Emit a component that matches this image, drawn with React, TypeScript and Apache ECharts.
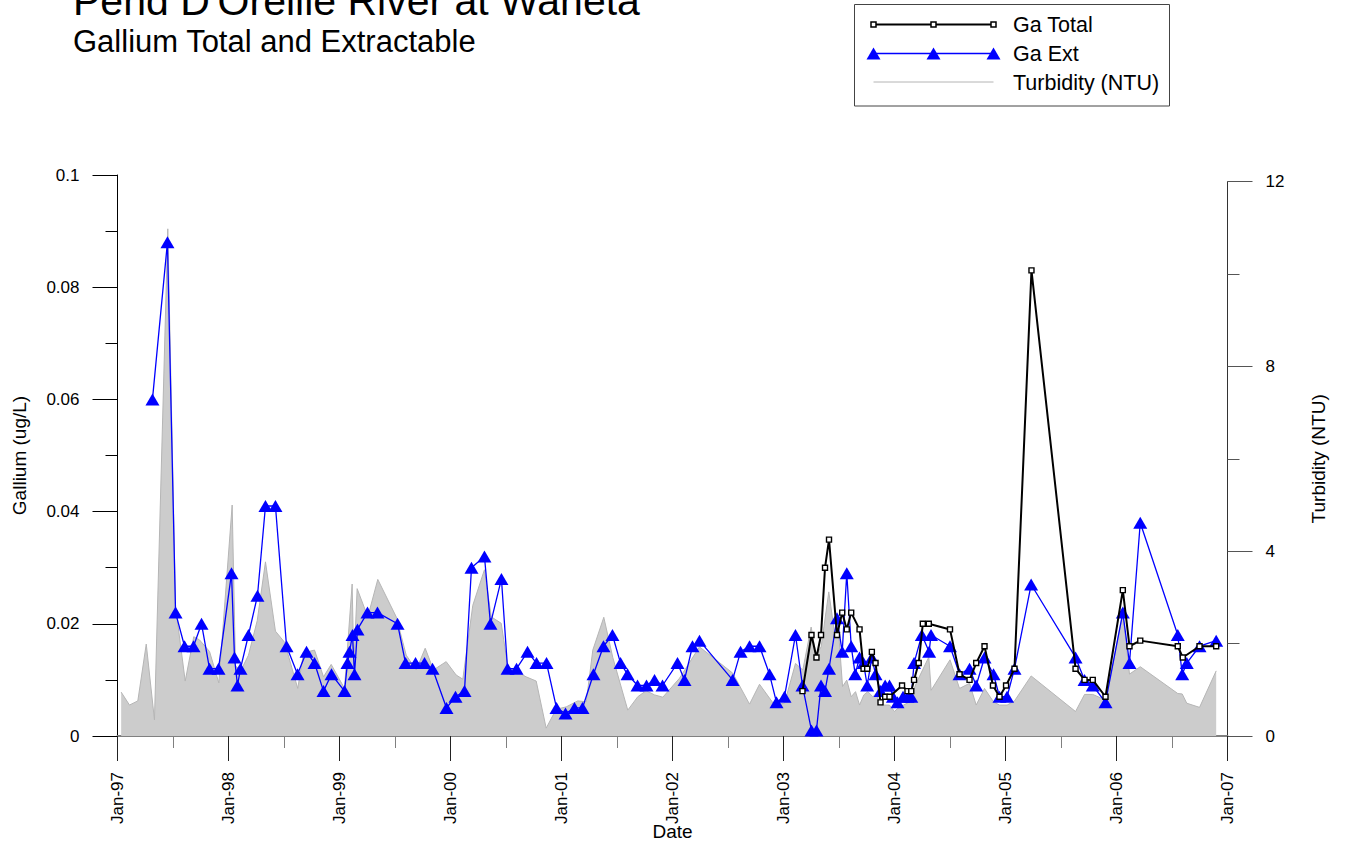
import { useEffect, useRef } from 'react';
import * as echarts from 'echarts';

const FONT = '"Liberation Sans", Arial, Helvetica, sans-serif';

// Sample times (decimal years) and values
const extDates = [
  1997.315, 1997.45, 1997.523, 1997.604, 1997.685, 1997.757, 1997.829, 1997.91,
  1998.027, 1998.054, 1998.081, 1998.108, 1998.18, 1998.261, 1998.333, 1998.423, 1998.523, 1998.622, 1998.703, 1998.775, 1998.856, 1998.928,
  1999.045, 1999.072, 1999.09, 1999.117, 1999.135, 1999.162, 1999.252, 1999.342, 1999.523, 1999.595, 1999.685, 1999.766, 1999.838, 1999.964,
  2000.045, 2000.126, 2000.189, 2000.306, 2000.36, 2000.459, 2000.514, 2000.595, 2000.694, 2000.775, 2000.865, 2000.955,
  2001.036, 2001.117, 2001.189, 2001.288, 2001.378, 2001.459, 2001.532, 2001.595, 2001.685, 2001.766, 2001.838, 2001.91,
  2002.045, 2002.108, 2002.18, 2002.243, 2002.541, 2002.613, 2002.694, 2002.784, 2002.874, 2002.937,
  2003.009, 2003.108, 2003.171, 2003.252, 2003.297, 2003.338, 2003.374, 2003.41, 2003.482, 2003.529, 2003.57, 2003.61, 2003.646, 2003.685, 2003.721, 2003.754, 2003.796, 2003.829, 2003.874, 2003.916, 2003.955, 2003.986,
  2004.027, 2004.077, 2004.117, 2004.151, 2004.176, 2004.246, 2004.312, 2004.329, 2004.5, 2004.586, 2004.676, 2004.736, 2004.811, 2004.892, 2004.946,
  2005.014, 2005.081, 2005.231, 2005.631, 2005.712, 2005.786, 2005.901,
  2006.057, 2006.117, 2006.214, 2006.552, 2006.592, 2006.633, 2006.748, 2006.898,
];
const extValues = [
  0.06, 0.088, 0.022, 0.016, 0.016, 0.02, 0.012, 0.012,
  0.029, 0.014, 0.009, 0.012, 0.018, 0.025, 0.041, 0.041, 0.016, 0.011, 0.015, 0.013, 0.008, 0.011,
  0.008, 0.013, 0.015, 0.018, 0.011, 0.019, 0.022, 0.022, 0.02, 0.013, 0.013, 0.013, 0.012, 0.005,
  0.007, 0.008, 0.03, 0.032, 0.02, 0.028, 0.012, 0.012, 0.015, 0.013, 0.013, 0.005,
  0.004, 0.005, 0.005, 0.011, 0.016, 0.018, 0.013, 0.011, 0.009, 0.009, 0.01, 0.009,
  0.013, 0.01, 0.016, 0.017, 0.01, 0.015, 0.016, 0.016, 0.011, 0.006,
  0.007, 0.018, 0.009, 0.001, 0.001, 0.009, 0.008, 0.012, 0.021, 0.015, 0.029, 0.016, 0.011, 0.014, 0.013, 0.009, 0.014, 0.011, 0.008, 0.009, 0.009, 0.007,
  0.006, 0.007, 0.007, 0.007, 0.013, 0.018, 0.015, 0.018, 0.016, 0.011, 0.012, 0.009, 0.014, 0.011, 0.007,
  0.007, 0.012, 0.027, 0.014, 0.01, 0.009, 0.006,
  0.022, 0.013, 0.038, 0.018, 0.011, 0.013, 0.016, 0.017,
];

const totalDates = [
  2003.171, 2003.252, 2003.297, 2003.338, 2003.374, 2003.41, 2003.482, 2003.529, 2003.57, 2003.61, 2003.685, 2003.721, 2003.754, 2003.796, 2003.829, 2003.874, 2003.916, 2003.955,
  2004.068, 2004.117, 2004.151, 2004.176, 2004.218, 2004.255, 2004.309, 2004.5, 2004.586, 2004.676, 2004.736, 2004.811, 2004.887, 2004.946,
  2005.005, 2005.081, 2005.234, 2005.631, 2005.712, 2005.786, 2005.901,
  2006.057, 2006.117, 2006.214, 2006.552, 2006.597, 2006.748, 2006.898,
];
const totalValues = [
  0.008, 0.018, 0.014, 0.018, 0.03, 0.035, 0.018, 0.022, 0.019, 0.022, 0.019, 0.012, 0.012, 0.015, 0.013, 0.006, 0.007, 0.007,
  0.009, 0.008, 0.008, 0.01, 0.013, 0.02, 0.02, 0.019, 0.011, 0.01, 0.013, 0.016, 0.009, 0.007,
  0.009, 0.012, 0.083, 0.012, 0.01, 0.01, 0.007,
  0.026, 0.016, 0.017, 0.016, 0.014, 0.016, 0.016,
];

const turbDates = [
  1997.033, 1997.108, 1997.183, 1997.259, 1997.333, 1997.453, 1997.523, 1997.61, 1997.687, 1997.739, 1997.829, 1997.913,
  1998.033, 1998.063, 1998.114, 1998.18, 1998.259, 1998.333, 1998.423, 1998.505, 1998.624, 1998.676, 1998.775, 1998.856, 1998.925,
  1999.045, 1999.114, 1999.129, 1999.159, 1999.255, 1999.345, 1999.511, 1999.601, 1999.691, 1999.772, 1999.847, 1999.961,
  2000.051, 2000.111, 2000.201, 2000.306, 2000.367, 2000.457, 2000.516, 2000.682, 2000.772, 2000.862, 2000.952,
  2001.042, 2001.147, 2001.223, 2001.282, 2001.381, 2001.462, 2001.597, 2001.687, 2001.763, 2001.838, 2001.913,
  2002.063, 2002.243, 2002.543, 2002.694, 2002.784, 2002.919,
  2003.009, 2003.108, 2003.174, 2003.249, 2003.294, 2003.339, 2003.408, 2003.459, 2003.489, 2003.532, 2003.57, 2003.61, 2003.649, 2003.685, 2003.724, 2003.76, 2003.805, 2003.835, 2003.874, 2003.955,
  2004.0, 2004.03, 2004.135, 2004.195, 2004.309, 2004.33, 2004.5, 2004.586, 2004.676, 2004.736, 2004.811, 2004.892, 2004.946,
  2005.015, 2005.081, 2005.231, 2005.631, 2005.712, 2005.786, 2005.901,
  2006.057, 2006.117, 2006.214, 2006.552, 2006.592, 2006.633, 2006.748, 2006.898,
];
const turbValues = [
  0.95, 0.67, 0.76, 1.99, 0.35, 10.98, 2.8, 1.19, 2.15, 2.08, 1.83, 1.15,
  5.0, 1.51, 1.43, 1.75, 2.5, 3.77, 2.27, 2.03, 1.03, 1.8, 1.86, 1.28, 1.55,
  1.03, 3.29, 1.5, 3.19, 2.58, 3.39, 2.58, 1.75, 1.43, 1.9, 1.43, 1.61,
  1.32, 1.23, 2.83, 3.6, 2.58, 2.44, 1.5, 1.28, 1.19, 0.17, 0.58,
  0.63, 0.76, 0.74, 1.86, 2.57, 1.7, 0.56, 0.85, 0.98, 0.89, 0.84,
  1.25, 1.93, 1.36, 0.69, 1.12, 0.67,
  0.71, 1.57, 1.43, 2.36, 1.75, 1.93, 3.12, 2.25, 2.5, 1.07, 1.21, 0.85, 0.96, 0.67, 0.89, 0.96, 0.85, 0.92, 0.67, 0.67,
  0.53, 0.6, 0.74, 1.14, 1.71, 0.99, 1.65, 1.03, 1.14, 0.67, 1.03, 0.74, 0.67,
  0.67, 0.76, 1.3, 0.53, 0.9, 0.9, 0.78,
  2.65, 1.34, 1.5, 0.92, 0.91, 0.71, 0.62, 1.41,
];

const TITLE = "Pend D'Oreille River at Waneta";
const SUBTITLE = 'Gallium Total and Extractable';
const LEGEND_LABELS = ['Ga Total', 'Ga Ext', 'Turbidity (NTU)'];
const X_NAME = 'Date';
const Y_LEFT_NAME = 'Gallium (ug/L)';
const Y_RIGHT_NAME = 'Turbidity (NTU)';
const MONTH_LABEL = 'Jan';

const pair = (xs: number[], ys: number[]) => xs.map((x, i) => [x, ys[i]]);

export default function App() {
  const ref = useRef<HTMLDivElement>(null);

  useEffect(() => {
    if (!ref.current) return;
    const chart = echarts.init(ref.current, undefined, { renderer: 'svg' });

    const gridL = 117.5;
    const gridR = 1345 - 1227.5;
    const gridBottom = 846 - 736;

    const legendRows = [24.5, 53.5, 82];
    const sampleXs = [873.5, 933.5, 993.5];

    const graphic: any[] = [
      {
        type: 'text', x: 73, y: 1, z: 100,
        style: { text: TITLE, fontSize: 41, fontFamily: FONT, fill: '#000', verticalAlign: 'middle', align: 'left' },
      },
      {
        type: 'text', x: 73, y: 41.5, z: 100,
        style: { text: SUBTITLE, fontSize: 31, fontFamily: FONT, fill: '#000', verticalAlign: 'middle', align: 'left' },
      },
      {
        type: 'rect', z: 100,
        shape: { x: 854.5, y: 4.5, width: 315, height: 101.5 },
        style: { fill: '#fff', stroke: '#444', lineWidth: 1 },
      },
      {
        type: 'line', z: 101,
        shape: { x1: sampleXs[0], y1: legendRows[0], x2: sampleXs[2], y2: legendRows[0] },
        style: { stroke: '#000', lineWidth: 2 },
      },
      ...sampleXs.map((x) => ({
        type: 'rect', z: 102,
        shape: { x: x - 2.5, y: legendRows[0] - 2.5, width: 5, height: 5 },
        style: { fill: '#fff', stroke: '#000', lineWidth: 1.5 },
      })),
      {
        type: 'line', z: 101,
        shape: { x1: sampleXs[0], y1: legendRows[1], x2: sampleXs[2], y2: legendRows[1] },
        style: { stroke: '#0000ff', lineWidth: 1.3 },
      },
      ...sampleXs.map((x) => ({
        type: 'polygon', z: 102,
        shape: { points: [[x - 7, legendRows[1] + 6], [x, legendRows[1] - 6], [x + 7, legendRows[1] + 6]] },
        style: { fill: '#0000ff' },
      })),
      {
        type: 'line', z: 101,
        shape: { x1: sampleXs[0], y1: legendRows[2], x2: sampleXs[2], y2: legendRows[2] },
        style: { stroke: '#b4b4b4', lineWidth: 1 },
      },
      ...LEGEND_LABELS.map((t, i) => ({
        type: 'text', x: 1013, y: legendRows[i] + 0.5, z: 102,
        style: { text: t, fontSize: 21.5, fontFamily: FONT, fill: '#000', verticalAlign: 'middle', align: 'left' },
      })),
    ];

    const option: any = {
      animation: false,
      backgroundColor: '#fff',
      textStyle: { fontFamily: FONT },
      grid: [
        { left: gridL, right: gridR, top: 175, bottom: gridBottom, outerBoundsMode: 'none', containLabel: false },
        { left: gridL, right: gridR, top: 181.7, bottom: gridBottom, outerBoundsMode: 'none', containLabel: false },
      ],
      xAxis: [
        {
          type: 'value', gridIndex: 0, min: 1997, max: 2007, interval: 1,
          name: X_NAME, nameLocation: 'middle', nameGap: 86, nameMoveOverlap: false,
          nameTextStyle: { fontSize: 19, color: '#000', fontFamily: FONT },
          axisLine: { show: true, onZero: false, lineStyle: { color: '#808080', width: 2 } },
          axisTick: { show: true, length: 25, lineStyle: { color: '#222', width: 1 } },
          minorTick: { show: true, splitNumber: 2, length: 12, lineStyle: { color: '#808080', width: 1 } },
          splitLine: { show: false },
          minorSplitLine: { show: false },
          axisLabel: {
            rotate: 90, margin: 36, fontSize: 17, color: '#000', fontFamily: FONT,
            formatter: (v: number) => `${MONTH_LABEL}-${String(Math.round(v) % 100).padStart(2, '0')}`,
          },
        },
        {
          type: 'value', gridIndex: 1, min: 1997, max: 2007, show: false,
        },
      ],
      yAxis: [
        {
          type: 'value', gridIndex: 0, min: 0, max: 0.1, interval: 0.02, position: 'left',
          name: Y_LEFT_NAME, nameLocation: 'middle', nameRotate: 90, nameGap: 89, nameMoveOverlap: false,
          nameTextStyle: { fontSize: 19, color: '#000', fontFamily: FONT },
          axisLine: { show: true, onZero: false, lineStyle: { color: '#000', width: 1 } },
          axisTick: { show: true, length: 25, lineStyle: { color: '#000', width: 1 } },
          minorTick: { show: true, splitNumber: 2, length: 12, lineStyle: { color: '#000', width: 1 } },
          splitLine: { show: false },
          axisLabel: { margin: 38, fontSize: 17, color: '#000', fontFamily: FONT },
        },
        {
          type: 'value', gridIndex: 1, min: 0, max: 12, interval: 4, position: 'right',
          name: Y_RIGHT_NAME, nameLocation: 'middle', nameRotate: 90, nameGap: 81, nameMoveOverlap: false,
          nameTextStyle: { fontSize: 19, color: '#000', fontFamily: FONT },
          axisLine: { show: true, onZero: false, lineStyle: { color: '#333', width: 1 } },
          axisTick: { show: true, length: 25, lineStyle: { color: '#555', width: 1 } },
          minorTick: { show: true, splitNumber: 2, length: 12, lineStyle: { color: '#555', width: 1 } },
          splitLine: { show: false },
          axisLabel: { margin: 38, fontSize: 17, color: '#000', fontFamily: FONT },
        },
      ],
      series: [
        {
          name: 'Turbidity (NTU)', type: 'line', xAxisIndex: 1, yAxisIndex: 1,
          data: pair(turbDates, turbValues), symbol: 'none', z: 1,
          lineStyle: { color: '#b5b5b5', width: 1 },
          areaStyle: { color: '#cccccc', opacity: 1 },
        },
        {
          name: 'Ga Ext', type: 'line', xAxisIndex: 0, yAxisIndex: 0,
          data: pair(extDates, extValues), symbol: 'triangle', symbolSize: [14, 12], z: 3,
          itemStyle: { color: '#0000ff' },
          lineStyle: { color: '#0000ff', width: 1.3 },
        },
        {
          name: 'Ga Total', type: 'line', xAxisIndex: 0, yAxisIndex: 0,
          data: pair(totalDates, totalValues), symbol: 'rect', symbolSize: 5, z: 4,
          itemStyle: { color: '#fff', borderColor: '#000', borderWidth: 1.4 },
          lineStyle: { color: '#000', width: 2 },
        },
      ],
      graphic,
    };

    chart.setOption(option);
    return () => chart.dispose();
  }, []);

  return (
    <div
      ref={ref}
      style={{ position: 'fixed', left: 0, top: 0, width: 1345, height: 846, background: '#fff' }}
    />
  );
}
